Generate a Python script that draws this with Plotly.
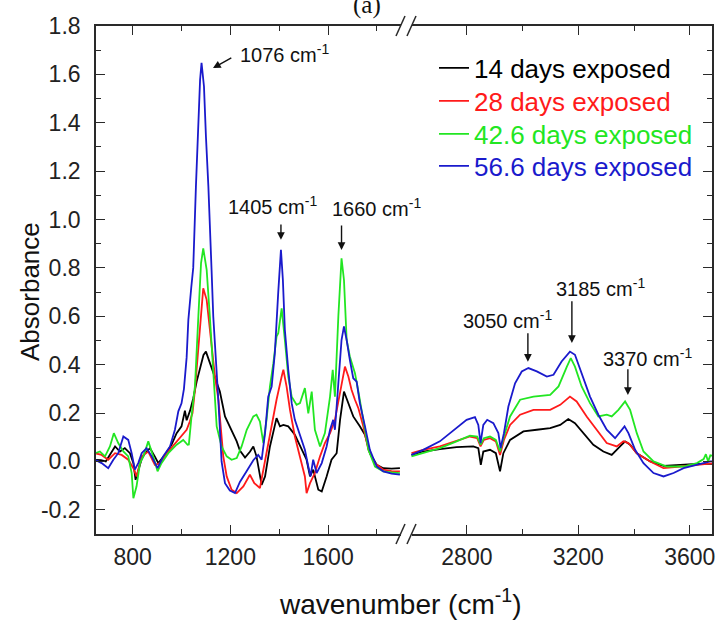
import plotly.graph_objects as go

# ---------------- data ----------------
labels = ["14 days exposed", "28 days exposed", "42.6 days exposed", "56.6 days exposed"]
colors = ["#000000", "#ff1a1a", "#22e622", "#1a1acc"]

# left segment (650 - 1925 cm-1)
wn_black_l = [646, 670, 690, 710, 728, 748, 768, 789, 803, 812, 823, 837, 850, 871, 891, 905, 932, 959, 980, 1000,
              1014, 1021, 1035, 1048, 1062, 1075, 1090, 1100, 1116, 1137, 1157, 1178, 1205, 1226, 1239, 1260, 1280,
              1294, 1307, 1318, 1328, 1342, 1362, 1389, 1403, 1417, 1437, 1464, 1492, 1512, 1526, 1539, 1560, 1574,
              1594, 1614, 1635, 1649, 1665, 1683, 1703, 1730, 1751, 1771, 1799, 1826, 1860, 1894]
abs_black_l = [0.007, 0.005, 0.0, 0.03, 0.062, 0.041, 0.055, 0.034, -0.007, -0.076, -0.035, 0.01, 0.034, 0.055, 0.02,
               -0.007, 0.027, 0.069, 0.117, 0.145, 0.21, 0.17, 0.21, 0.26, 0.33, 0.38, 0.44, 0.454, 0.41, 0.344,
               0.289, 0.186, 0.131, 0.083, 0.045, 0.016, 0.04, 0.062, 0.021, -0.05, -0.097, -0.062, 0.062, 0.179,
               0.145, 0.151, 0.145, 0.110, 0.048, 0.007, -0.062, -0.034, -0.117, -0.124, -0.062, 0.007, 0.034,
               0.172, 0.289, 0.241, 0.186, 0.145, 0.110, 0.034, -0.014, -0.028, -0.03, -0.028]

wn_red_l = [646, 673, 700, 728, 755, 782, 803, 816, 837, 864, 891, 912, 946, 987, 1021, 1034, 1045, 1055, 1073, 1089,
            1103, 1123, 1137, 1151, 1171, 1185, 1205, 1226, 1253, 1280, 1298, 1321, 1342, 1369, 1389, 1410, 1417,
            1430, 1444, 1464, 1485, 1505, 1512, 1526, 1546, 1567, 1587, 1608, 1628, 1649, 1669, 1683, 1696, 1710,
            1724, 1744, 1765, 1792, 1826, 1860, 1894]
abs_red_l = [0.034, 0.027, 0.007, 0.034, 0.027, 0.007, -0.028, -0.062, 0.021, 0.041, -0.014, -0.007, 0.041, 0.089,
             0.131, 0.165, 0.2, 0.296, 0.530, 0.716, 0.668, 0.489, 0.351, 0.255, 0.021, -0.062, -0.117, -0.131,
             -0.103, -0.055, -0.09, -0.110, 0.007, 0.145, 0.255, 0.351, 0.379, 0.310, 0.213, 0.103, 0.021, -0.062,
             -0.131, -0.090, -0.048, 0.021, 0.076, 0.117, 0.172, 0.289, 0.392, 0.351, 0.296, 0.255, 0.220, 0.145,
             0.048, -0.007, -0.034, -0.04, -0.041]

wn_green_l = [646, 666, 687, 707, 723, 741, 762, 782, 796, 803, 816, 830, 844, 864, 884, 902, 918, 946, 980, 1007,
              1025, 1030, 1041, 1055, 1069, 1080, 1089, 1103, 1116, 1130, 1144, 1164, 1185, 1205, 1226, 1246, 1267,
              1294, 1307, 1321, 1335, 1348, 1362, 1376, 1389, 1396, 1410, 1423, 1437, 1451, 1471, 1485, 1505, 1519,
              1533, 1546, 1567, 1587, 1608, 1619, 1628, 1642, 1655, 1665, 1676, 1689, 1710, 1724, 1744, 1765, 1792,
              1826, 1860, 1894]
abs_green_l = [0.034, 0.041, 0.021, 0.062, 0.117, 0.076, 0.041, 0.021, -0.048, -0.152, -0.103, -0.007, 0.021, 0.083,
               0.021, -0.041, -0.007, 0.034, 0.069, 0.089, 0.069, 0.07, 0.186, 0.31, 0.6, 0.82, 0.881, 0.792, 0.599,
               0.351, 0.145, 0.062, 0.021, 0.007, 0.014, 0.062, 0.131, 0.186, 0.193, 0.165, 0.076, 0.172, 0.310,
               0.406, 0.516, 0.530, 0.633, 0.502, 0.351, 0.268, 0.234, 0.241, 0.303, 0.199, 0.289, 0.131, 0.062,
               0.117, 0.268, 0.379, 0.268, 0.6, 0.840, 0.75, 0.502, 0.434, 0.365, 0.289, 0.172, 0.048, -0.021,
               -0.041, -0.045, -0.048]

wn_blue_l = [646, 673, 700, 721, 741, 762, 782, 796, 809, 823, 837, 857, 878, 902, 925, 953, 973, 987, 1000, 1010,
             1021, 1028, 1040, 1048, 1059, 1069, 1076, 1082, 1092, 1100, 1110, 1123, 1130, 1151, 1164, 1178, 1198,
             1219, 1239, 1267, 1294, 1314, 1328, 1342, 1355, 1369, 1382, 1396, 1407, 1415, 1423, 1437, 1451, 1464,
             1485, 1505, 1519, 1528, 1539, 1553, 1574, 1594, 1608, 1621, 1628, 1642, 1655, 1665, 1676, 1689, 1703,
             1717, 1730, 1751, 1771, 1799, 1826, 1860, 1894]
abs_blue_l = [0.007, -0.007, -0.028, 0.007, 0.034, 0.103, 0.089, 0.034, -0.034, -0.007, 0.034, 0.055, 0.021, -0.028,
              0.021, 0.062, 0.131, 0.207, 0.24, 0.30, 0.43, 0.585, 0.72, 0.80, 1.136, 1.412, 1.577, 1.648, 1.55,
              1.343, 1.136, 0.792, 0.599, 0.25, 0.0, -0.090, -0.120, -0.131, -0.085, -0.04, 0.005, 0.027, 0.007,
              0.117, 0.268, 0.310, 0.447, 0.70, 0.875, 0.75, 0.544, 0.379, 0.241, 0.172, 0.110, 0.048, -0.021,
              -0.062, 0.007, -0.048, -0.007, 0.062, 0.131, 0.172, 0.131, 0.310, 0.502, 0.558, 0.502, 0.420, 0.344,
              0.330, 0.241, 0.145, 0.048, -0.021, -0.041, -0.05, -0.055]

# right segment (2585 - 3680 cm-1)
wn_black_r = [2601, 2643, 2703, 2763, 2823, 2841, 2850, 2859, 2883, 2904, 2919, 2931, 2955, 3003, 3051, 3099, 3135,
              3164, 3188, 3218, 3254, 3290, 3320, 3350, 3368, 3386, 3410, 3458, 3506, 3566, 3626, 3692]
abs_black_r = [0.027, 0.041, 0.051, 0.059, 0.062, 0.055, -0.014, 0.041, 0.048, 0.034, -0.041, 0.034, 0.089, 0.124,
               0.131, 0.138, 0.151, 0.175, 0.158, 0.117, 0.069, 0.041, 0.027, 0.062, 0.083, 0.069, 0.034, 0.0,
               -0.018, -0.014, -0.01, -0.01]

wn_red_r = [2601, 2643, 2703, 2763, 2811, 2837, 2849, 2861, 2883, 2904, 2919, 2933, 2955, 2991, 3039, 3099, 3135,
            3170, 3194, 3230, 3266, 3302, 3338, 3362, 3380, 3410, 3458, 3506, 3566, 3626, 3692]
abs_red_r = [0.034, 0.048, 0.062, 0.083, 0.103, 0.096, 0.062, 0.089, 0.096, 0.083, 0.027, 0.089, 0.151, 0.193,
             0.213, 0.213, 0.234, 0.268, 0.248, 0.186, 0.131, 0.076, 0.062, 0.083, 0.076, 0.034, 0.0, -0.028,
             -0.021, -0.014, -0.007]

wn_green_r = [2601, 2643, 2703, 2763, 2811, 2837, 2849, 2861, 2883, 2904, 2919, 2933, 2955, 2991, 3039, 3099, 3129,
              3159, 3173, 3188, 3212, 3242, 3272, 3302, 3320, 3344, 3368, 3386, 3410, 3434, 3470, 3518, 3578, 3626,
              3650, 3658, 3666, 3674, 3692]
abs_green_r = [0.021, 0.034, 0.055, 0.083, 0.106, 0.103, 0.069, 0.096, 0.103, 0.089, 0.041, 0.103, 0.186, 0.255,
               0.268, 0.275, 0.310, 0.392, 0.427, 0.392, 0.310, 0.241, 0.186, 0.193, 0.186, 0.213, 0.248, 0.213,
               0.117, 0.041, 0.0, -0.021, -0.021, -0.007, 0.01, 0.03, 0.0, 0.025, 0.021]

wn_blue_r = [2601, 2643, 2703, 2763, 2799, 2829, 2841, 2849, 2859, 2873, 2895, 2913, 2921, 2933, 2949, 2973, 2997,
             3021, 3051, 3087, 3111, 3140, 3170, 3188, 3212, 3242, 3272, 3302, 3332, 3350, 3366, 3380, 3404, 3434,
             3470, 3506, 3542, 3578, 3626, 3674, 3692]
abs_blue_r = [0.027, 0.048, 0.083, 0.138, 0.172, 0.183, 0.151, 0.076, 0.151, 0.172, 0.158, 0.117, 0.055, 0.117,
              0.227, 0.323, 0.372, 0.386, 0.372, 0.351, 0.358, 0.413, 0.454, 0.441, 0.365, 0.268, 0.193, 0.131,
              0.096, 0.124, 0.145, 0.117, 0.048, -0.007, -0.048, -0.062, -0.048, -0.028, -0.014, 0.0, 0.0]

left_x = [wn_black_l, wn_red_l, wn_green_l, wn_blue_l]
left_y = [abs_black_l, abs_red_l, abs_green_l, abs_blue_l]
right_x = [wn_black_r, wn_red_r, wn_green_r, wn_blue_r]
right_y = [abs_black_r, abs_red_r, abs_green_r, abs_blue_r]

x_left_range = [650, 1923]
x_right_range = [2585, 3680]
y_range = [-0.3, 1.8]
x_left_ticks = [800, 1200, 1600]
x_left_minor = [1000, 1400, 1800]
x_right_ticks = [2800, 3200, 3600]
x_right_minor = [3000, 3400]
y_ticks = [-0.2, 0.0, 0.2, 0.4, 0.6, 0.8, 1.0, 1.2, 1.4, 1.6, 1.8]
y_ticktext = ["-0.2", "0.0", "0.2", "0.4", "0.6", "0.8", "1.0", "1.2", "1.4", "1.6", "1.8"]
y_minor = [-0.3, -0.1, 0.1, 0.3, 0.5, 0.7, 0.9, 1.1, 1.3, 1.5, 1.7]

# peak annotations: (label, text x, text y, arrow head x, head y, tail x, tail y, text anchor)
peak_notes = [
    ("1076", 1232, 1.688, 1129, 1.626, 1210, 1.672, "left"),
    ("1405", 1372, 1.060, 1407, 0.916, 1407, 0.986, "center"),
    ("1660", 1797, 1.048, 1655, 0.874, 1655, 0.982, "center"),
    ("3050", 2947, 0.585, 3019, 0.412, 3019, 0.536, "center"),
    ("3185", 3278, 0.721, 3177, 0.490, 3177, 0.668, "center"),
    ("3370", 3447, 0.428, 3378, 0.275, 3378, 0.387, "center"),
]

# ---------------- figure ----------------
W, H = 720, 625
ML, MT = 96, 26
PR, PB = 712, 534          # plot right / bottom in px
MR, MB = W - PR, H - PB
PW, PH = PR - ML, PB - MT
BRK_PX = 407
brk = (BRK_PX - ML) / PW

FONT = "Liberation Sans, Arial, sans-serif"
AX = "#2a2a2a"


def px2paper(px, py):
    return (px - ML) / PW, (PB - py) / PH


legend_ids = ["legend", "legend2", "legend3", "legend4"]
legend_rows_px = [68, 101, 134, 166]

fig = go.Figure()
for i in range(4):
    fig.add_trace(go.Scatter(
        x=left_x[i], y=left_y[i], mode="lines",
        line=dict(color=colors[i], width=1.8),
        name=f'<span style="color:{colors[i]}">{labels[i]}</span>',
        legend=legend_ids[i], legendgroup=labels[i], xaxis="x", yaxis="y"))
    fig.add_trace(go.Scatter(
        x=right_x[i], y=right_y[i], mode="lines",
        line=dict(color=colors[i], width=1.8),
        showlegend=False, legendgroup=labels[i], xaxis="x2", yaxis="y2"))

common_x = dict(ticks="inside", ticklen=9, tickwidth=1.4, tickcolor=AX, showline=True, linecolor=AX,
                linewidth=1.6, mirror="ticks", showgrid=False, zeroline=False, ticklabelstandoff=2,
                tickfont=dict(family=FONT, size=23, color="#222"))

legend_layout = {}
for i, lid in enumerate(legend_ids):
    lx, ly = px2paper(434, legend_rows_px[i])
    legend_layout[lid] = dict(x=lx, y=ly, xanchor="left", yanchor="middle",
                              font=dict(family=FONT, size=26), bgcolor="rgba(0,0,0,0)", itemwidth=30)

fig.update_layout(
    width=W, height=H,
    margin=dict(l=ML, r=MR, t=MT, b=MB, autoexpand=False),
    paper_bgcolor="white", plot_bgcolor="white",
    showlegend=True,
    xaxis=dict(domain=[0, brk], range=x_left_range, tickmode="array", tickvals=x_left_ticks,
               minor=dict(tickmode="array", tickvals=x_left_minor, ticks="inside", ticklen=5,
                          tickcolor=AX, tickwidth=1.2, showgrid=False),
               anchor="y", **common_x),
    xaxis2=dict(domain=[brk, 1], range=x_right_range, tickmode="array", tickvals=x_right_ticks,
                minor=dict(tickmode="array", tickvals=x_right_minor, ticks="inside", ticklen=5,
                           tickcolor=AX, tickwidth=1.2, showgrid=False),
                anchor="y2", **common_x),
    yaxis=dict(domain=[0, 1], range=y_range, tickmode="array", tickvals=y_ticks, ticktext=y_ticktext,
               ticks="inside", ticklen=9, tickwidth=1.4, tickcolor=AX, showline=True, linecolor=AX,
               linewidth=1.6, mirror=False, showgrid=False, zeroline=False, anchor="x", side="left",
               ticklabelstandoff=9,
               minor=dict(tickmode="array", tickvals=y_minor, ticks="inside", ticklen=5, tickcolor=AX,
                          tickwidth=1.2, showgrid=False),
               tickfont=dict(family=FONT, size=23, color="#222")),
    yaxis2=dict(domain=[0, 1], range=y_range, tickmode="array", tickvals=y_ticks, showticklabels=False,
                ticks="inside", ticklen=9, tickwidth=1.4, tickcolor=AX, showline=True, linecolor=AX,
                linewidth=1.6, mirror=False, showgrid=False, zeroline=False, anchor="x2", side="right",
                minor=dict(tickmode="array", tickvals=y_minor, ticks="inside", ticklen=5, tickcolor=AX,
                           tickwidth=1.2, showgrid=False)),
    **legend_layout,
)

# axis titles and panel label
ax_x, ax_y = px2paper(400, 602)
fig.add_annotation(text="wavenumber (cm<sup>-1</sup>)", xref="paper", yref="paper", x=ax_x, y=ax_y,
                   showarrow=False, xanchor="center", yanchor="middle",
                   font=dict(family=FONT, size=28, color="#111"))
ay_x, ay_y = px2paper(30, 292)
fig.add_annotation(text="Absorbance", xref="paper", yref="paper", x=ay_x, y=ay_y, textangle=-90,
                   showarrow=False, xanchor="center", yanchor="middle",
                   font=dict(family=FONT, size=26, color="#111"))
pa_x, pa_y = px2paper(367, 21)
fig.add_annotation(text="(a)", xref="paper", yref="paper", x=pa_x, y=pa_y, showarrow=False,
                   xanchor="center", yanchor="bottom",
                   font=dict(family="Liberation Serif, Times New Roman, serif", size=25, color="#111"))

# peak labels with arrows
for lab, tx, ty, hx, hy, tlx, tly, anc in peak_notes:
    xr_text = "x2" if tx > 2500 else "x"
    yr_text = "y2" if tx > 2500 else "y"
    xr_arrow = "x2" if hx > 2500 else "x"
    yr_arrow = "y2" if hx > 2500 else "y"
    fig.add_annotation(text=f"{lab} cm<sup>-1</sup>", xref=xr_text, yref=yr_text, x=tx, y=ty,
                       showarrow=False, xanchor=anc, yanchor="middle",
                       font=dict(family=FONT, size=20, color="#111"))
    fig.add_annotation(text="", xref=xr_arrow, yref=yr_arrow, x=hx, y=hy,
                       axref=xr_arrow, ayref=yr_arrow, ax=tlx, ay=tly,
                       showarrow=True, arrowhead=2, arrowsize=1.1, arrowwidth=1.4, arrowcolor="#111")

# axis-break marks
shapes = []
for yc in (MT, PB):
    x0, y0 = px2paper(401, yc + 3)
    x1, y1 = px2paper(412, yc - 3)
    shapes.append(dict(type="rect", xref="paper", yref="paper", x0=x0, y0=y0, x1=x1, y1=y1,
                       line=dict(width=0), fillcolor="white", layer="above"))
    for dx in (0, 11):
        a0, b0 = px2paper(396 + dx, yc + 10)
        a1, b1 = px2paper(405 + dx, yc - 10)
        shapes.append(dict(type="line", xref="paper", yref="paper", x0=a0, y0=b0, x1=a1, y1=b1,
                           line=dict(color=AX, width=1.5), layer="above"))
fig.update_layout(shapes=shapes)

fig.write_html("out.html", config={"displayModeBar": False},
               post_script="document.body.style.margin='0';document.body.style.overflow='hidden';")
